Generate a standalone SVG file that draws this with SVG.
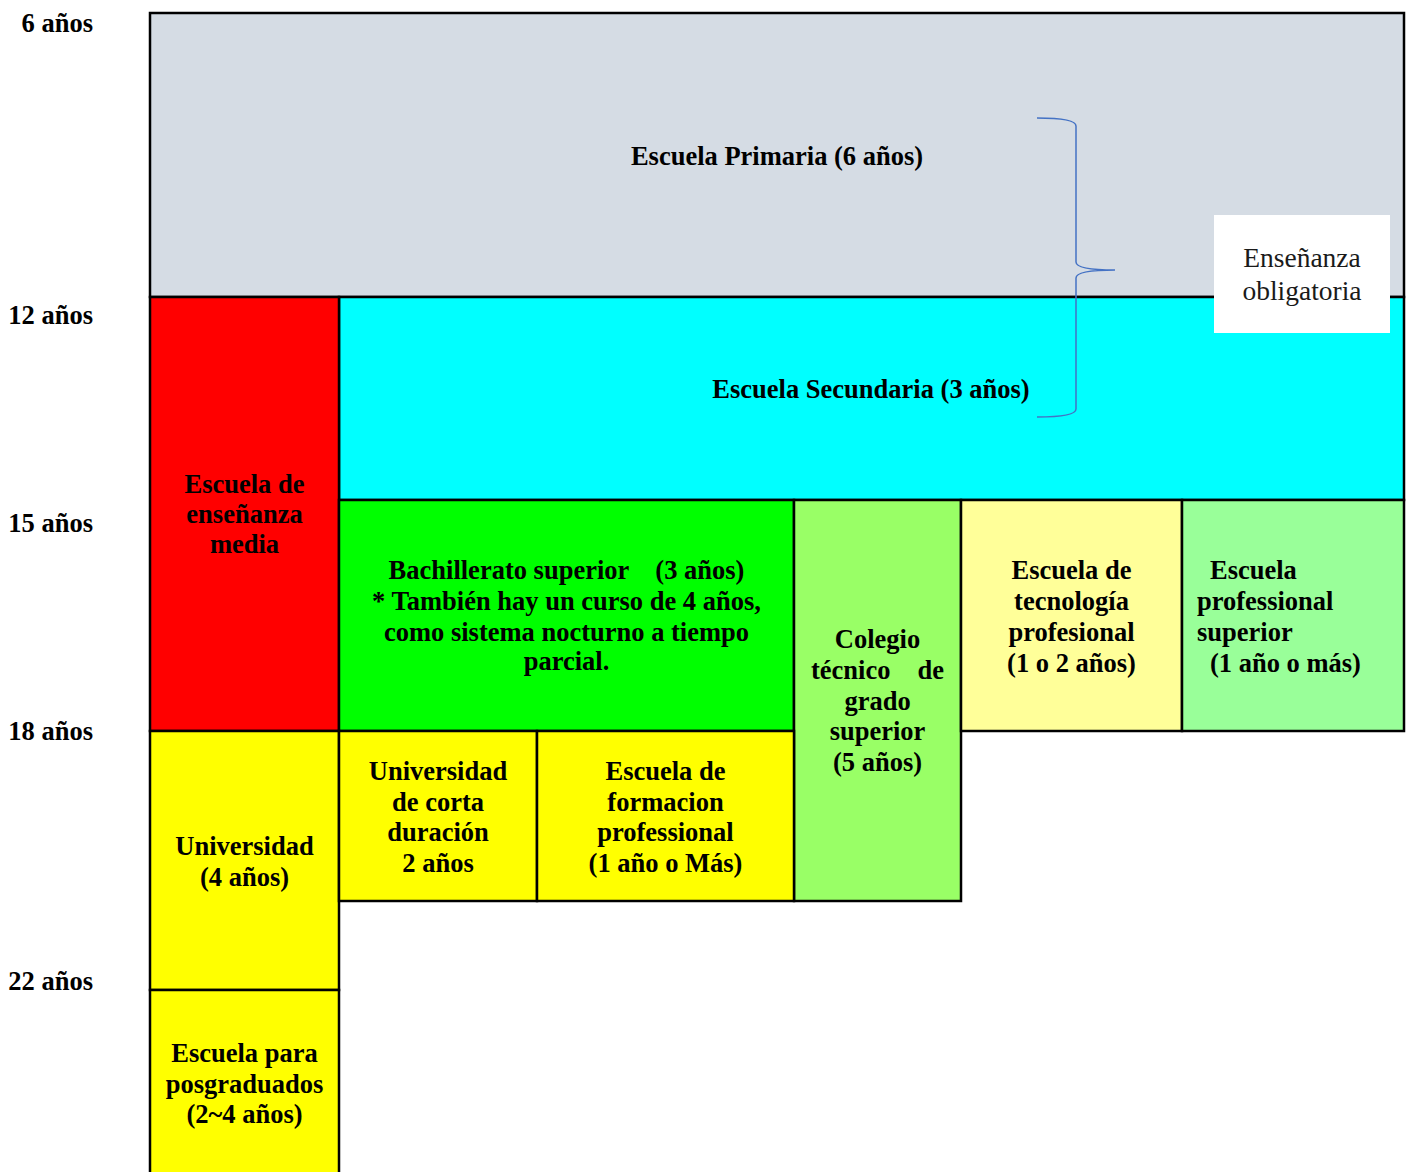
<svg xmlns="http://www.w3.org/2000/svg" width="1410" height="1172" viewBox="0 0 1410 1172">
<style>
.box{stroke:#000;stroke-width:2.5}
text{font-family:"Liberation Serif","Times New Roman",serif;font-size:26.5px;fill:#000}
.b{font-weight:bold}
.c{text-anchor:middle}
.e{text-anchor:end}
.lab{font-weight:bold;text-anchor:end}
</style>
<rect width="1410" height="1172" fill="#fff"/>
<g id="ages">
<text class="lab" x="93" y="32">6 años</text>
<text class="lab" x="93" y="324">12 años</text>
<text class="lab" x="93" y="532">15 años</text>
<text class="lab" x="93" y="740">18 años</text>
<text class="lab" x="93" y="990">22 años</text>
</g>
<g id="primaria">
<rect class="box" x="150" y="13" width="1254" height="284" fill="#D5DCE4"/>
<text class="b c" x="777" y="165">Escuela Primaria (6 años)</text>
</g>
<g id="secundaria">
<rect class="box" x="339" y="297" width="1065" height="203" fill="#00FFFF"/>
<text class="b c" x="871" y="398">Escuela Secundaria (3 años)</text>
</g>
<g id="media">
<rect class="box" x="150" y="297" width="189" height="434" fill="#FF0000"/>
<text class="b c" x="244.5" y="493">Escuela de</text>
<text class="b c" x="244.5" y="523">enseñanza</text>
<text class="b c" x="244.5" y="553">media</text>
</g>
<g id="bachillerato">
<rect class="box" x="339" y="500" width="455" height="231" fill="#00FF00"/>
<text class="b c" x="566.5" y="579" xml:space="preserve">Bachillerato superior    (3 años)</text>
<text class="b c" x="566.5" y="610">* También hay un curso de 4 años,</text>
<text class="b c" x="566.5" y="641">como sistema nocturno a tiempo</text>
<text class="b c" x="566.5" y="670">parcial.</text>
</g>
<g id="colegio">
<rect class="box" x="794" y="500" width="167" height="401" fill="#99FF66"/>
<text class="b c" x="877.5" y="648">Colegio</text>
<text class="b" x="811" y="679">técnico</text>
<text class="b e" x="944" y="679">de</text>
<text class="b c" x="877.5" y="710">grado</text>
<text class="b c" x="877.5" y="740">superior</text>
<text class="b c" x="877.5" y="771">(5 años)</text>
</g>
<g id="tecnologia">
<rect class="box" x="961" y="500" width="221" height="231" fill="#FFFF99"/>
<text class="b c" x="1071.5" y="579">Escuela de</text>
<text class="b c" x="1071.5" y="610">tecnología</text>
<text class="b c" x="1071.5" y="641">profesional</text>
<text class="b c" x="1071.5" y="672">(1 o 2 años)</text>
</g>
<g id="prof-superior">
<rect class="box" x="1182" y="500" width="222" height="231" fill="#99FF99"/>
<text class="b" x="1210" y="579">Escuela</text>
<text class="b" x="1197" y="610">professional</text>
<text class="b" x="1197" y="641">superior</text>
<text class="b" x="1210" y="672">(1 año o más)</text>
</g>
<g id="universidad">
<rect class="box" x="150" y="731" width="189" height="259" fill="#FFFF00"/>
<text class="b c" x="244.5" y="855">Universidad</text>
<text class="b c" x="244.5" y="886">(4 años)</text>
</g>
<g id="corta">
<rect class="box" x="339" y="731" width="198" height="170" fill="#FFFF00"/>
<text class="b c" x="438" y="780">Universidad</text>
<text class="b c" x="438" y="811">de corta</text>
<text class="b c" x="438" y="841">duración</text>
<text class="b c" x="438" y="872">2 años</text>
</g>
<g id="formacion">
<rect class="box" x="537" y="731" width="257" height="170" fill="#FFFF00"/>
<text class="b c" x="665.5" y="780">Escuela de</text>
<text class="b c" x="665.5" y="811">formacion</text>
<text class="b c" x="665.5" y="841">professional</text>
<text class="b c" x="665.5" y="872">(1 año o Más)</text>
</g>
<g id="posgrado">
<rect class="box" x="150" y="990" width="189" height="190" fill="#FFFF00"/>
<text class="b c" x="244.5" y="1062">Escuela para</text>
<text class="b c" x="244.5" y="1093">posgraduados</text>
<text class="b c" x="244.5" y="1123">(2~4 años)</text>
</g>
<g id="connectors">
<path d="M1037,118 Q1076,118 1076,126 L1076,262 Q1076,270 1115,270 Q1076,270 1076,278 L1076,409 Q1076,417 1037,417" fill="none" stroke="#4472C4" stroke-width="1.5"/>
</g>
<g id="obligatoria">
<rect x="1214" y="215" width="176" height="118" fill="#fff"/>
<text class="c" x="1302" y="267" style="font-size:27.5px;fill:#1a1a1a">Enseñanza</text>
<text class="c" x="1302" y="300" style="font-size:27.5px;fill:#1a1a1a">obligatoria</text>
</g>
</svg>
